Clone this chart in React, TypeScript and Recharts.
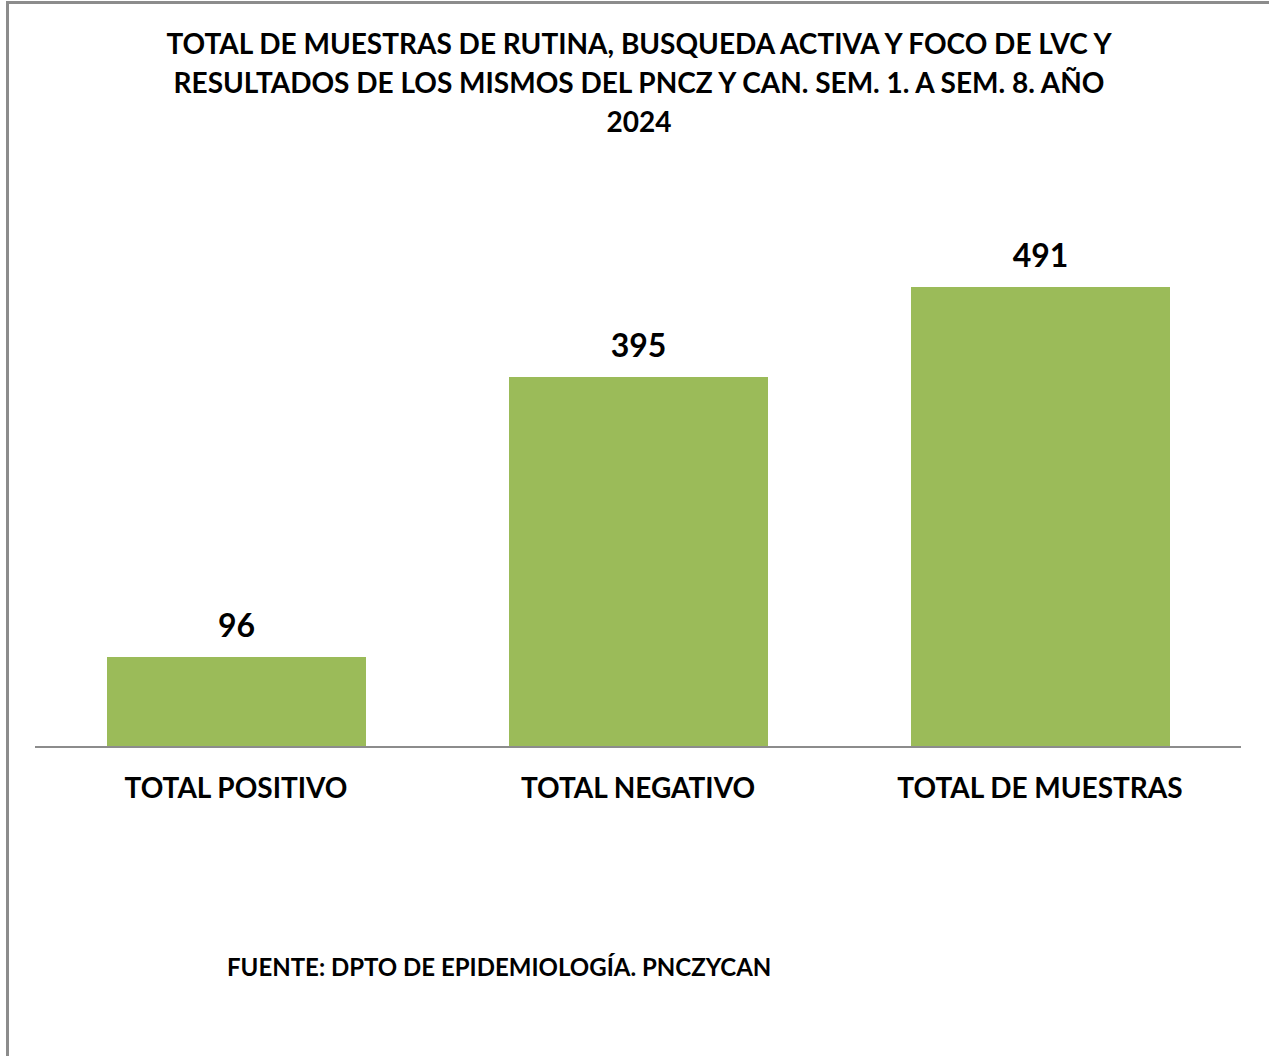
import { BarChart, Bar, XAxis, YAxis, LabelList } from "recharts";

const categories = ["TOTAL POSITIVO", "TOTAL NEGATIVO", "TOTAL DE MUESTRAS"];
const values = [96, 395, 491];

const titleLines = [
  "TOTAL DE MUESTRAS DE RUTINA, BUSQUEDA ACTIVA Y FOCO DE LVC Y",
  "RESULTADOS DE LOS MISMOS DEL PNCZ Y CAN. SEM. 1. A SEM. 8. AÑO",
  "2024",
];
const source = "FUENTE: DPTO DE EPIDEMIOLOGÍA. PNCZYCAN";

const data = categories.map((name, i) => ({ name, value: values[i] }));

const font = "Lato, 'Open Sans', sans-serif";

export default function App() {
  return (
    <div
      style={{
        position: "absolute",
        left: 0,
        top: 0,
        width: 1269,
        height: 1056,
        overflow: "hidden",
        background: "#fff",
        fontFamily: font,
      }}
    >
      <div
        style={{
          position: "absolute",
          left: 6,
          top: 1,
          width: 1400,
          height: 1200,
          borderTop: "3px solid #8c8c8c",
          borderLeft: "3px solid #8c8c8c",
        }}
      />
      <div
        style={{
          position: "absolute",
          left: 0,
          top: 24,
          width: 1278,
          textAlign: "center",
          fontWeight: 700,
          fontSize: 28,
          lineHeight: "39px",
          color: "#000",
        }}
      >
        {titleLines.map((t) => (
          <div key={t}>{t}</div>
        ))}
      </div>
      <BarChart
        width={1269}
        height={1056}
        data={data}
        margin={{ top: 185, right: 28, left: 35, bottom: 249 }}
        style={{ position: "absolute", left: 0, top: 0 }}
      >
        <YAxis hide domain={[0, 600]} />
        <XAxis
          dataKey="name"
          height={60}
          tickLine={false}
          axisLine={{ stroke: "#8c8c8c", strokeWidth: 2 }}
          tick={{ fontSize: 28, fontWeight: 700, fill: "#000", fontFamily: font }}
          tickMargin={25}
        />
        <Bar dataKey="value" fill="#9BBB59" barSize={259} isAnimationActive={false}>
          <LabelList
            dataKey="value"
            position="top"
            offset={20}
            style={{ fontSize: 32, fontWeight: 700, fill: "#000", fontFamily: font }}
          />
        </Bar>
      </BarChart>
      <div
        style={{
          position: "absolute",
          left: 227,
          top: 952,
          fontWeight: 700,
          fontSize: 24,
          color: "#000",
          whiteSpace: "nowrap",
        }}
      >
        {source}
      </div>
    </div>
  );
}
